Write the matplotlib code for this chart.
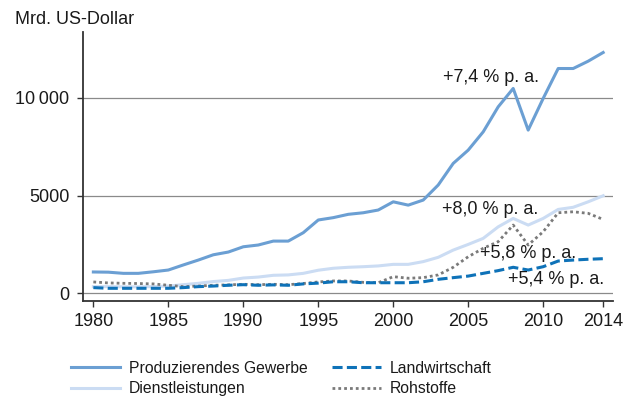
import matplotlib
matplotlib.use("Agg")
import matplotlib.pyplot as plt

plt.rcParams['font.family'] = ['Liberation Sans', 'DejaVu Sans']

years = list(range(1980, 2015))

produzierendes_gewerbe = [1090, 1080, 1020, 1020, 1100, 1190, 1450, 1700, 1970, 2110,
                          2380, 2470, 2670, 2670, 3100, 3750, 3870, 4040, 4120, 4260,
                          4680, 4510, 4770, 5540, 6645, 7325, 8260, 9540, 10480, 8350,
                          9970, 11500, 11500, 11875, 12320]
dienstleistungen = [340, 340, 330, 330, 340, 370, 440, 510, 600, 660,
                    780, 830, 920, 940, 1020, 1180, 1280, 1330, 1360, 1400,
                    1480, 1480, 1620, 1840, 2210, 2500, 2810, 3400, 3830, 3490,
                    3830, 4290, 4400, 4680, 4990]
landwirtschaft = [290, 255, 255, 255, 255, 255, 290, 340, 370, 410,
                  440, 410, 430, 410, 480, 520, 590, 590, 540, 540,
                  540, 540, 590, 715, 800, 880, 1020, 1160, 1330, 1190,
                  1360, 1650, 1700, 1740, 1770]
rohstoffe = [580, 530, 510, 500, 480, 410, 340, 370, 410, 430,
             460, 440, 460, 440, 500, 580, 630, 630, 560, 540,
             850, 770, 800, 940, 1330, 1870, 2300, 2640, 3490, 2470,
             3150, 4120, 4170, 4090, 3780]

x_ticks = [1980, 1985, 1990, 1995, 2000, 2005, 2010, 2014]
y_ticks = [0, 5000, 10000]
y_tick_labels = ['0', '5000', '10\u2009000']

growth_labels = ['+7,4 % p. a.', '+8,0 % p. a.', '+5,8 % p. a.', '+5,4 % p. a.']

TXT = '#1a1a1a'
FS = 13

fig = plt.figure(figsize=(6.27, 3.97), dpi=100)
ax = fig.add_axes([0.1324, 0.2418, 0.978 - 0.1324, 0.919 - 0.2418])

for yv in y_ticks:
    ax.axhline(yv, color='#8a8a8a', lw=0.9, zorder=1)

l_dl, = ax.plot(years, dienstleistungen, color='#cbdcf3', lw=2.2, zorder=2,
                label='Dienstleistungen')
l_rs, = ax.plot(years, rohstoffe, color='#7a7a7a', lw=2.0, ls=(0, (1, 1.1)), zorder=3,
                label='Rohstoffe')
l_lw, = ax.plot(years, landwirtschaft, color='#0e72b8', lw=2.2, ls=(0, (3.3, 1.4)), zorder=4,
                label='Landwirtschaft')
l_pg, = ax.plot(years, produzierendes_gewerbe, color='#6b9fd3', lw=2.2, zorder=5,
                label='Produzierendes Gewerbe')

ax.set_xlim(1979.31, 2014.67)
ax.set_ylim(-395, 13360)
ax.set_xticks(x_ticks)
ax.set_xticklabels([str(t) for t in x_ticks])
ax.set_yticks(y_ticks)
ax.set_yticklabels(y_tick_labels)
ax.tick_params(axis='both', labelsize=FS, color='#333333', length=4.3, width=1.0,
               direction='out', labelcolor=TXT)
ax.tick_params(axis='y', pad=5.5)
ax.tick_params(axis='x', pad=4.5)

for s in ['top', 'right']:
    ax.spines[s].set_visible(False)
for s in ['left', 'bottom']:
    ax.spines[s].set_color('#333333')
    ax.spines[s].set_linewidth(1.3)

fig.text(15 / 627, 1 - 19 / 397, 'Mrd. US-Dollar', fontsize=FS, color=TXT,
         ha='left', va='center')

ann = dict(fontsize=FS, color=TXT, ha='left', va='center', zorder=10)
ax.text(2003.3, 11050, growth_labels[0], **ann)
ax.text(2003.25, 4310, growth_labels[1], **ann)
ax.text(2005.78, 2010, growth_labels[2], **ann)
ax.text(2007.65, 680, growth_labels[3], **ann)

handles = [l_pg, l_dl, l_lw, l_rs]
leg = fig.legend(handles=handles, labels=[h.get_label() for h in handles],
                 ncol=2, loc='center left', bbox_to_anchor=(71 / 627, 1 - 378.5 / 397),
                 frameon=False, fontsize=11.3, handlelength=3.1, handletextpad=0.6,
                 columnspacing=1.55, labelspacing=0.35, borderaxespad=0, borderpad=0)
for t in leg.get_texts():
    t.set_color(TXT)

fig.savefig('out.png', dpi=100)
